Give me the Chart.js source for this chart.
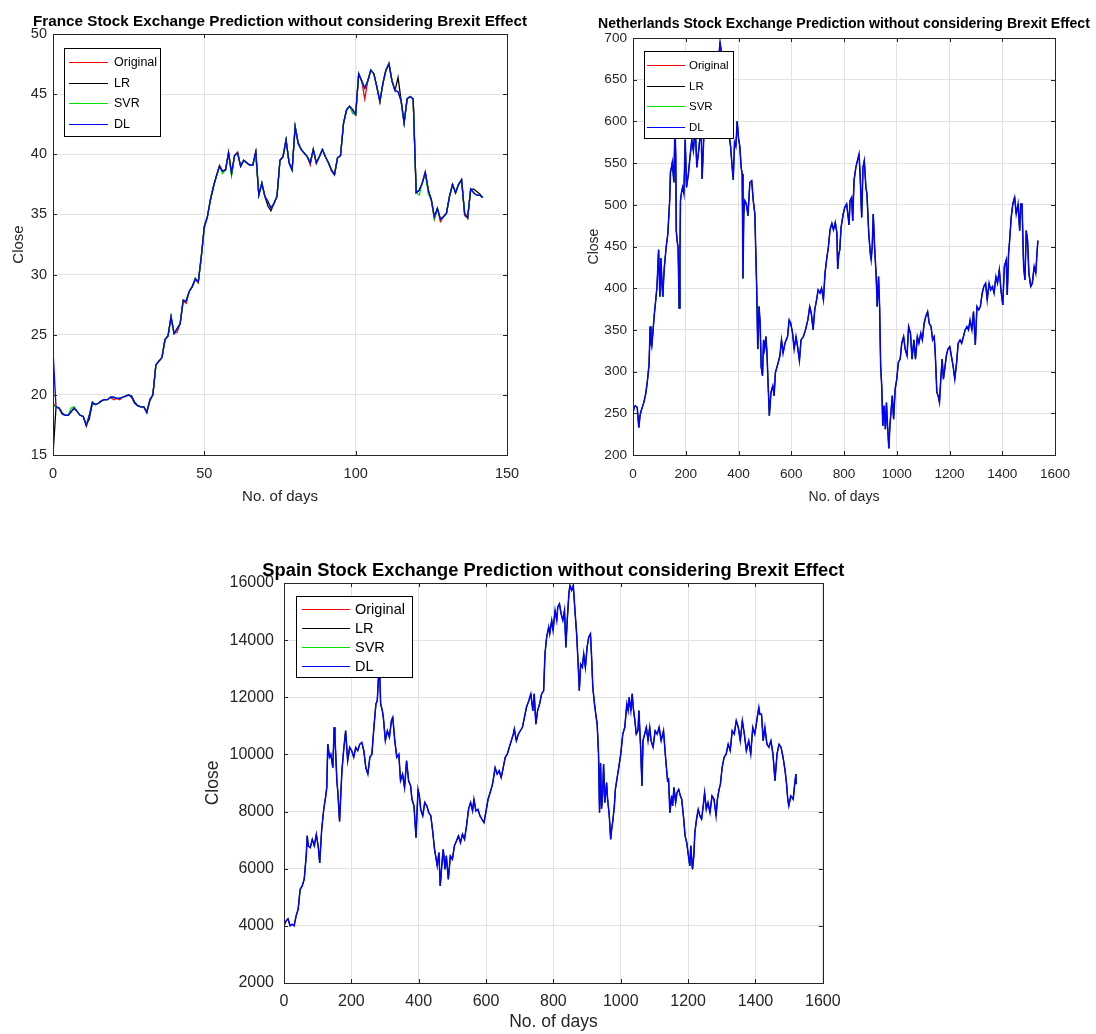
<!DOCTYPE html>
<html>
<head>
<meta charset="utf-8">
<script src="https://cdn.jsdelivr.net/npm/chart.js@4.4.1/dist/chart.umd.min.js"></script>
<style>
  html, body { margin: 0; padding: 0; background: #fff; }
  body { width: 1096px; height: 1034px; position: relative; overflow: hidden; }
  canvas { position: absolute; }
</style>
</head>
<body>
<canvas id="france" width="545" height="520" style="left:0;top:0"></canvas>
<canvas id="netherlands" width="536" height="520" style="left:560px;top:0"></canvas>
<canvas id="spain" width="660" height="484" style="left:190px;top:550px"></canvas>
<script>
// series shown in every panel
const seriesNames = ['Original', 'LR', 'SVR', 'DL']
const seriesColors = ['#ff0000', '#000000', '#00e000', '#0000ff']

// France: one value per day (day = index)
const franceOriginal = [19.3, 19.0, 18.9, 18.5, 18.3, 18.3, 18.6, 18.9, 18.6, 18.3,
  18.2, 17.5, 18.3, 19.3, 19.2, 19.3, 19.5, 19.6, 19.6, 19.8,
  19.6, 19.7, 19.6, 19.8, 19.9, 20.0, 19.8, 19.3, 19.1, 19.0,
  19.0, 18.6, 19.6, 20.0, 22.5, 22.8, 23.1, 24.6, 24.9, 26.4,
  25.1, 25.2, 25.9, 27.8, 27.6, 28.6, 29.0, 29.6, 29.3, 31.5,
  34.0, 34.8, 36.2, 37.3, 38.2, 39.1, 38.6, 38.7, 40.2, 38.4,
  39.9, 40.2, 39.0, 39.5, 39.3, 39.1, 39.1, 40.2, 36.6, 37.6,
  36.5, 36.0, 35.6, 35.9, 36.5, 39.5, 39.8, 41.2, 39.3, 38.7,
  42.3, 40.9, 40.4, 40.1, 39.8, 39.1, 40.4, 39.2, 39.8, 40.4,
  39.8, 39.3, 38.6, 38.3, 39.7, 39.9, 42.6, 43.7, 44.0, 43.7,
  43.3, 46.7, 46.1, 44.6, 46.1, 47.0, 46.7, 45.6, 44.3, 45.9,
  47.0, 47.6, 46.1, 45.3, 45.2, 44.4, 42.6, 44.6, 44.8, 44.6,
  36.8, 37.0, 37.6, 38.5, 37.0, 36.2, 34.6, 35.5, 34.4, 34.8,
  35.1, 36.5, 37.5, 36.8, 37.5, 37.9, 34.9, 34.7, 37.1, 36.8,
  36.6, 36.6, 36.4]
const franceLR = [15.0, 19.0, 18.9, 18.4, 18.3, 18.3, 18.6, 18.9, 18.6, 18.3,
  18.2, 17.5, 18.0, 19.3, 19.2, 19.3, 19.5, 19.6, 19.6, 19.8,
  19.8, 19.7, 19.7, 19.8, 19.9, 20.0, 19.9, 19.4, 19.1, 19.0,
  19.0, 18.6, 19.5, 20.0, 22.5, 22.8, 23.1, 24.6, 24.9, 26.5,
  25.1, 25.5, 25.9, 27.9, 27.8, 28.6, 29.0, 29.7, 29.4, 31.5,
  34.0, 34.8, 36.2, 37.3, 38.2, 39.0, 38.6, 38.7, 40.1, 38.4,
  39.9, 40.1, 39.0, 39.5, 39.3, 39.1, 39.1, 40.2, 36.6, 37.6,
  36.5, 35.7, 35.3, 35.9, 36.5, 39.5, 39.8, 41.2, 39.3, 38.7,
  42.3, 41.0, 40.4, 40.1, 39.8, 39.3, 40.4, 39.3, 39.8, 40.4,
  39.8, 39.3, 38.7, 38.3, 39.7, 39.9, 42.6, 43.7, 44.0, 43.7,
  43.3, 46.7, 46.1, 45.5, 46.1, 47.0, 46.7, 45.6, 44.4, 45.9,
  47.0, 47.5, 46.1, 45.3, 46.4, 44.5, 42.6, 44.6, 44.8, 44.6,
  36.8, 37.0, 37.6, 38.5, 37.0, 36.2, 34.8, 35.5, 34.6, 34.8,
  35.1, 36.5, 37.5, 36.8, 37.5, 37.8, 35.1, 34.7, 37.1, 37.1,
  36.9, 36.7, 36.4]
const franceSVR = [19.1, 19.0, 18.9, 18.5, 18.3, 18.3, 18.9, 19.0, 18.6, 18.3,
  18.2, 17.5, 18.3, 19.4, 19.2, 19.3, 19.5, 19.6, 19.6, 19.8,
  19.8, 19.7, 19.7, 19.8, 19.9, 20.0, 19.8, 19.3, 19.1, 19.0,
  19.0, 18.5, 19.6, 20.0, 22.5, 22.8, 23.1, 24.6, 24.9, 26.5,
  25.1, 25.5, 25.9, 27.8, 27.8, 28.6, 29.0, 29.6, 29.4, 31.5,
  33.8, 34.8, 36.2, 37.3, 38.2, 39.0, 38.4, 38.7, 40.1, 38.2,
  39.9, 40.1, 39.0, 39.5, 39.3, 39.1, 39.1, 39.9, 36.6, 37.6,
  36.5, 36.1, 35.5, 35.9, 36.5, 39.5, 39.8, 41.2, 39.3, 38.7,
  42.3, 40.9, 40.4, 40.1, 39.8, 39.3, 40.4, 39.3, 39.8, 40.4,
  39.8, 39.3, 38.7, 38.3, 39.7, 39.9, 42.6, 43.7, 44.0, 43.4,
  43.3, 46.7, 46.1, 45.5, 46.1, 47.0, 46.7, 45.6, 44.4, 45.9,
  47.0, 47.5, 46.1, 45.3, 45.2, 44.5, 42.6, 44.6, 44.8, 44.6,
  36.8, 36.6, 37.6, 38.5, 36.7, 36.2, 34.6, 35.5, 34.6, 34.8,
  35.1, 36.5, 37.5, 36.8, 37.5, 37.9, 35.1, 34.7, 37.1, 36.8,
  36.6, 36.6, 36.4]
const franceDL = [23.7, 19.0, 18.9, 18.5, 18.3, 18.3, 18.6, 18.9, 18.6, 18.3,
  18.2, 17.4, 18.3, 19.4, 19.2, 19.3, 19.5, 19.6, 19.6, 19.8,
  19.8, 19.7, 19.7, 19.8, 19.9, 20.0, 19.8, 19.3, 19.1, 19.0,
  19.0, 18.5, 19.6, 20.0, 22.5, 22.8, 23.1, 24.6, 24.9, 26.5,
  25.1, 25.5, 25.9, 27.8, 27.8, 28.6, 29.0, 29.6, 29.4, 31.5,
  34.0, 34.8, 36.2, 37.3, 38.2, 39.0, 38.6, 38.7, 40.1, 38.4,
  39.9, 40.1, 39.0, 39.5, 39.3, 39.1, 39.1, 40.2, 36.6, 37.6,
  36.5, 36.1, 35.5, 35.9, 36.5, 39.5, 39.8, 41.2, 39.3, 38.7,
  42.3, 40.9, 40.4, 40.1, 39.8, 39.3, 40.4, 39.3, 39.8, 40.4,
  39.8, 39.3, 38.7, 38.3, 39.7, 39.9, 42.6, 43.7, 44.0, 43.7,
  43.3, 46.7, 46.1, 45.5, 46.1, 47.0, 46.7, 45.6, 44.4, 45.9,
  47.0, 47.5, 46.1, 45.3, 45.2, 44.5, 42.6, 44.6, 44.8, 44.6,
  36.8, 37.0, 37.6, 38.5, 37.0, 36.2, 34.8, 35.5, 34.6, 34.8,
  35.1, 36.5, 37.5, 36.8, 37.5, 37.9, 35.1, 34.7, 37.1, 36.8,
  36.6, 36.6, 36.4]
const franceDays = franceDL.map((_, i) => i)

// Netherlands: sampled days and close (the four series overlap at this scale)
const nlDays = [0, 5, 9, 16, 22, 27, 31, 36, 41, 48, 54, 61, 65, 68, 71, 75, 80, 86, 91, 97,
  102, 106, 110, 113, 116, 119, 126, 132, 139, 142, 146, 149, 155, 159, 162, 164, 168, 171, 175, 178,
  180, 184, 188, 193, 198, 203, 210, 216, 223, 229, 236, 242, 249, 255, 258, 262, 268, 275, 281, 288,
  295, 302, 310, 318, 325, 330, 334, 340, 347, 355, 362, 370, 376, 380, 385, 390, 395, 400, 405, 410,
  414, 417, 420, 424, 430, 436, 443, 450, 456, 462, 465, 469, 473, 478, 482, 486, 491, 495, 499, 504,
  508, 512, 517, 523, 530, 535, 540, 549, 557, 563, 569, 576, 586, 592, 598, 605, 611, 618, 624, 631,
  637, 646, 654, 663, 670, 676, 683, 689, 696, 702, 709, 715, 722, 728, 734, 741, 747, 754, 760, 767,
  773, 776, 780, 784, 789, 797, 803, 810, 816, 819, 823, 829, 833, 838, 845, 851, 857, 861, 867, 872,
  877, 883, 887, 894, 900, 903, 907, 911, 916, 922, 926, 931, 935, 939, 943, 947, 952, 957, 961, 965,
  970, 974, 978, 983, 988, 994, 1000, 1006, 1013, 1019, 1026, 1032, 1039, 1045, 1052, 1058, 1065, 1071, 1078, 1084,
  1091, 1097, 1104, 1110, 1117, 1123, 1130, 1136, 1142, 1146, 1152, 1157, 1162, 1167, 1172, 1177, 1183, 1188, 1194, 1201,
  1207, 1214, 1220, 1227, 1233, 1240, 1246, 1253, 1259, 1266, 1272, 1278, 1285, 1291, 1298, 1304, 1311, 1317, 1324, 1330,
  1337, 1343, 1350, 1356, 1363, 1369, 1376, 1382, 1389, 1395, 1402, 1408, 1415, 1419, 1424, 1427, 1434, 1440, 1447, 1453,
  1460, 1466, 1470, 1475, 1481, 1486, 1491, 1496, 1501, 1508, 1514, 1521, 1527, 1531, 1535]
const nlClose = [250, 258, 259, 257, 233, 248, 253, 258, 263, 273, 287, 309, 354, 335, 330, 345, 366, 385, 402, 446,
  390, 436, 405, 390, 410, 426, 450, 465, 505, 539, 545, 551, 527, 594, 560, 469, 455, 449, 376, 440,
  505, 515, 521, 513, 578, 521, 537, 557, 578, 565, 594, 545, 565, 585, 600, 531, 578, 600, 590, 615,
  600, 620, 640, 655, 675, 695, 685, 650, 620, 600, 590, 570, 545, 530, 575, 570, 600, 580, 570, 545,
  537, 412, 489, 505, 501, 487, 527, 529, 505, 489, 450, 400, 327, 378, 358, 306, 295, 338, 327, 342,
  322, 287, 247, 275, 283, 271, 299, 309, 319, 338, 322, 334, 342, 362, 358, 346, 327, 342, 330, 313,
  338, 342, 350, 362, 378, 370, 350, 374, 386, 398, 394, 400, 386, 418, 434, 450, 470, 478, 470, 479,
  466, 423, 440, 446, 473, 489, 497, 501, 485, 476, 505, 509, 481, 529, 545, 553, 561, 537, 485, 545,
  553, 521, 513, 465, 441, 434, 450, 489, 450, 414, 378, 414, 378, 306, 283, 235, 259, 231, 263, 235,
  208, 235, 251, 271, 243, 279, 291, 311, 315, 334, 342, 327, 319, 354, 346, 315, 338, 315, 342, 334,
  346, 338, 358, 366, 372, 358, 354, 338, 342, 322, 275, 271, 263, 291, 315, 291, 306, 319, 327, 330,
  319, 306, 291, 311, 334, 338, 334, 342, 350, 354, 350, 362, 350, 372, 332, 378, 374, 378, 394, 402,
  406, 386, 406, 398, 402, 394, 414, 406, 422, 398, 380, 426, 434, 392, 442, 453, 485, 501, 509, 489,
  501, 469, 501, 501, 426, 410, 469, 457, 418, 402, 406, 426, 418, 438, 457]

// Spain: sampled days and close
const spainDays = [0, 6, 12, 18, 24, 30, 36, 42, 48, 54, 60, 66, 69, 72, 78, 84, 90, 96, 102, 106,
  112, 118, 124, 127, 130, 135, 139, 145, 149, 151, 157, 160, 165, 172, 177, 183, 189, 195, 201, 207,
  213, 219, 225, 231, 237, 243, 249, 255, 261, 267, 273, 277, 281, 284, 287, 292, 295, 301, 307, 313,
  319, 323, 329, 335, 341, 346, 352, 358, 364, 370, 376, 380, 386, 392, 395, 398, 402, 406, 412, 418,
  424, 430, 436, 442, 447, 452, 455, 460, 464, 470, 473, 478, 482, 488, 494, 500, 506, 512, 518, 524,
  530, 536, 542, 548, 554, 560, 564, 570, 576, 582, 588, 594, 600, 606, 612, 618, 621, 627, 633, 639,
  645, 651, 657, 663, 669, 675, 681, 684, 690, 696, 702, 708, 714, 720, 727, 733, 739, 743, 748, 753,
  759, 765, 771, 775, 780, 786, 789, 795, 799, 805, 810, 813, 818, 823, 828, 833, 837, 841, 846, 849,
  854, 859, 864, 869, 873, 877, 881, 886, 890, 895, 900, 905, 910, 913, 917, 922, 927, 930, 934, 937,
  940, 943, 946, 949, 953, 958, 961, 966, 970, 973, 977, 981, 984, 988, 994, 1000, 1006, 1012, 1018, 1022,
  1025, 1030, 1034, 1037, 1042, 1046, 1051, 1054, 1059, 1063, 1066, 1071, 1076, 1081, 1086, 1090, 1096, 1102, 1108, 1114,
  1120, 1127, 1133, 1139, 1142, 1146, 1151, 1154, 1158, 1163, 1167, 1172, 1177, 1181, 1187, 1191, 1196, 1201, 1205, 1208,
  1213, 1217, 1220, 1225, 1230, 1235, 1240, 1245, 1249, 1254, 1259, 1265, 1271, 1277, 1283, 1287, 1292, 1296, 1301, 1307,
  1313, 1319, 1325, 1331, 1337, 1343, 1349, 1355, 1361, 1367, 1373, 1380, 1386, 1392, 1398, 1404, 1410, 1413, 1418, 1423,
  1428, 1434, 1440, 1446, 1452, 1458, 1464, 1470, 1476, 1482, 1488, 1492, 1496, 1499, 1505, 1512, 1516, 1520, 1521]
const spainClose = [4000, 4170, 4250, 4000, 4060, 4000, 4350, 4580, 5280, 5400, 5630, 6450, 7150, 6800, 6740, 7030, 6800, 7200, 6740, 6200,
  7380, 8080, 8550, 8840, 10360, 9900, 10010, 9540, 10950, 10710, 9080, 8660, 7650, 9430, 10130, 10830, 9780, 10250, 10130, 9900,
  10250, 10130, 10360, 10420, 10130, 9540, 9310, 9900, 10010, 10950, 11770, 11880, 12820, 12900, 11770, 11530, 11300, 10480, 10830, 10600,
  11180, 11300, 10480, 9900, 10010, 9080, 9310, 8840, 9780, 9080, 8900, 8430, 8200, 7090, 7960, 8780, 8550, 8080, 7850, 8320,
  8200, 7960, 7850, 7260, 6680, 6330, 6100, 6560, 5400, 6330, 6680, 5980, 6450, 5630, 6450, 6330, 6800, 6970, 7150, 6910,
  7210, 7030, 7500, 8080, 8320, 8020, 8430, 8020, 8080, 7850, 7730, 7610, 8020, 8430, 8660, 8900, 9080, 9540, 9310, 9430,
  9190, 9540, 9900, 10010, 10250, 10480, 10710, 10890, 10480, 10710, 10830, 10950, 11300, 11650, 11880, 12120, 11530, 12120, 11060, 11530,
  11770, 12120, 12230, 13520, 14110, 14460, 14220, 14690, 14340, 15040, 14690, 15160, 15270, 14920, 14690, 15040, 13750, 14690, 15630, 15920,
  15740, 15920, 15040, 14220, 13280, 12230, 13160, 13050, 13520, 13050, 13750, 14110, 14220, 13520, 12350, 11770, 11300, 11060, 10010, 7960,
  9700, 8100, 8550, 9660, 8320, 9010, 8430, 7850, 7030, 7380, 7730, 8200, 8780, 9080, 9540, 10010, 10710, 10950, 11770, 11530,
  12000, 11530, 12120, 11650, 11180, 10710, 10830, 11530, 10250, 8900, 10480, 10710, 10950, 10480, 10950, 10480, 10250, 10830, 10710, 10950,
  10480, 10830, 9900, 9080, 9130, 7960, 8550, 8200, 8840, 8320, 8660, 8780, 8550, 8430, 7730, 7150, 6910, 6450, 6100, 6800,
  5980, 6450, 7260, 7730, 8080, 7850, 7730, 8200, 8660, 8080, 8320, 7960, 8550, 8430, 7850, 8430, 8780, 8960, 9540, 9900,
  10010, 10360, 10130, 10830, 10710, 11180, 10950, 10480, 11180, 10710, 10130, 10480, 10010, 10950, 10710, 11180, 11650, 11410, 11410, 10480,
  10950, 10360, 10250, 10480, 10010, 9080, 10010, 10360, 10250, 9900, 9430, 9010, 8430, 8200, 8550, 8430, 8900, 9310, 8960]

const FONT = "'Liberation Sans', Arial, Helvetica, sans-serif"
const INK = '#262626'
const GRID = '#e1e1e1'

// bold title centred over the plot, allowed to run wider than it
const panelTitle = {
  id: 'panelTitle',
  afterDraw(chart, args, o) {
    const {ctx, chartArea: a} = chart
    ctx.save()
    ctx.font = 'bold ' + o.size + 'px ' + FONT
    ctx.fillStyle = '#000'
    ctx.textAlign = 'center'
    ctx.textBaseline = 'middle'
    ctx.fillText(o.text, (a.left + a.right) / 2, o.y)
    ctx.restore()
  }
}

// box round the plot with small inward ticks on all four sides
const axesBox = {
  id: 'axesBox',
  afterDatasetsDraw(chart) {
    const {ctx, chartArea: a, scales: {x, y}} = chart
    const len = 4
    ctx.save()
    ctx.strokeStyle = INK
    ctx.lineWidth = 1
    ctx.beginPath()
    x.ticks.forEach(t => {
      const px = Math.round(x.getPixelForValue(t.value)) + 0.5
      ctx.moveTo(px, a.bottom); ctx.lineTo(px, a.bottom - len)
      ctx.moveTo(px, a.top); ctx.lineTo(px, a.top + len)
    })
    y.ticks.forEach(t => {
      const py = Math.round(y.getPixelForValue(t.value)) + 0.5
      ctx.moveTo(a.left, py); ctx.lineTo(a.left + len, py)
      ctx.moveTo(a.right, py); ctx.lineTo(a.right - len, py)
    })
    ctx.stroke()
    ctx.strokeRect(Math.round(a.left) + 0.5, Math.round(a.top) + 0.5,
                   Math.round(a.right - a.left), Math.round(a.bottom - a.top))
    ctx.restore()
  }
}

// legend box placed inside the plot, top left
const boxLegend = {
  id: 'boxLegend',
  afterDraw(chart, args, o) {
    const {ctx, chartArea: a} = chart
    const left = Math.round(a.left + o.dx), top = Math.round(a.top + o.dy)
    ctx.save()
    ctx.fillStyle = '#fff'
    ctx.fillRect(left, top, o.w, o.h)
    ctx.strokeStyle = '#000'
    ctx.lineWidth = 1
    ctx.strokeRect(left + 0.5, top + 0.5, o.w, o.h)
    ctx.font = o.size + 'px ' + FONT
    ctx.textBaseline = 'middle'
    chart.data.datasets.forEach((ds, i) => {
      const yy = Math.round(top + o.row0 + i * o.gap) + 0.5
      ctx.strokeStyle = ds.borderColor
      ctx.beginPath()
      ctx.moveTo(left + o.line0, yy)
      ctx.lineTo(left + o.line1, yy)
      ctx.stroke()
      ctx.fillStyle = '#000'
      ctx.fillText(ds.label, left + o.text, yy)
    })
    ctx.restore()
  }
}

function makePanel(p) {
  const datasets = seriesNames.map((name, i) => ({
    label: name,
    data: p.days.map((d, k) => ({x: d, y: p.series[i][k]})),
    borderColor: seriesColors[i],
    borderWidth: p.lineWidths[i],
    pointRadius: 0,
    tension: 0,
    order: seriesNames.length - i   // DL drawn last, on top
  }))
  const tick = {family: FONT, size: p.tickSize}
  const label = {family: FONT, size: p.labelSize}
  return new Chart(document.getElementById(p.id), {
    type: 'line',
    data: {datasets},
    plugins: [axesBox, boxLegend, panelTitle],
    options: {
      responsive: false,
      animation: false,
      devicePixelRatio: 1,
      layout: {padding: {left: 0, right: p.padRight, top: p.padTop, bottom: 0}},
      plugins: {
        legend: {display: false},
        tooltip: {enabled: false},
        title: {display: false},
        panelTitle: p.title,
        boxLegend: p.legend
      },
      scales: {
        x: {
          type: 'linear', min: p.xMin, max: p.xMax,
          afterFit: s => { s.height = p.xAxisHeight },
          ticks: {stepSize: p.xStep, font: tick, color: INK, padding: p.xTickPad,
                  maxRotation: 0, autoSkip: false, callback: v => String(v)},
          grid: {color: GRID, drawTicks: false},
          border: {display: false},
          title: {display: true, text: 'No. of days', font: label, color: INK,
                  padding: {top: 0, bottom: p.xTitlePad}}
        },
        y: {
          type: 'linear', min: p.yMin, max: p.yMax,
          afterFit: s => { s.width = p.yAxisWidth },
          ticks: {stepSize: p.yStep, font: tick, color: INK, padding: p.yTickPad,
                  callback: v => String(v)},
          grid: {color: GRID, drawTicks: false},
          border: {display: false},
          title: {display: true, text: 'Close', font: label, color: INK,
                  padding: {top: p.yTitlePad, bottom: 0}}
        }
      }
    }
  })
}

makePanel({
  id: 'france',
  title: {text: 'France Stock Exchange Prediction without considering Brexit Effect', size: 15.25, y: 21.5},
  days: franceDays,
  series: [franceOriginal, franceLR, franceSVR, franceDL],
  lineWidths: [1.3, 1.3, 1.3, 1.3],
  xMin: 0, xMax: 150, xStep: 50, yMin: 15, yMax: 50, yStep: 5,
  tickSize: 14.5, labelSize: 15,
  padTop: 34, padRight: 38, yAxisWidth: 53, xAxisHeight: 65,
  xTickPad: 10, yTickPad: 6, xTitlePad: 14, yTitlePad: 10,
  legend: {dx: 11, dy: 14, w: 96, h: 88, line0: 5, line1: 44, text: 50, row0: 14, gap: 20.6, size: 12.5}
})

makePanel({
  id: 'netherlands',
  title: {text: 'Netherlands Stock Exchange Prediction without considering Brexit Effect', size: 14.1, y: 24},
  days: nlDays,
  series: [nlClose, nlClose, nlClose, nlClose],
  lineWidths: [0.8, 0.8, 0.8, 1.5],
  xMin: 0, xMax: 1600, xStep: 200, yMin: 200, yMax: 700, yStep: 50,
  tickSize: 13.6, labelSize: 14,
  padTop: 38, padRight: 41, yAxisWidth: 73, xAxisHeight: 65,
  xTickPad: 10.8, yTickPad: 6, xTitlePad: 14.6, yTitlePad: 25.6,
  legend: {dx: 11, dy: 13, w: 89, h: 87, line0: 3, line1: 41, text: 45, row0: 14, gap: 20.7, size: 11.5}
})

makePanel({
  id: 'spain',
  title: {text: 'Spain Stock Exchange Prediction without considering Brexit Effect', size: 18.3, y: 21},
  days: spainDays,
  series: [spainClose, spainClose, spainClose, spainClose],
  lineWidths: [0.8, 0.8, 0.8, 1.5],
  xMin: 0, xMax: 1600, xStep: 200, yMin: 2000, yMax: 16000, yStep: 2000,
  tickSize: 16, labelSize: 17.5,
  padTop: 33, padRight: 25, yAxisWidth: 94, xAxisHeight: 51,
  xTickPad: 9.4, yTickPad: 10, xTitlePad: 1.5, yTitlePad: 12.5,
  legend: {dx: 12, dy: 13, w: 116, h: 81, line0: 6, line1: 54, text: 59, row0: 13, gap: 19, size: 14.5}
})
</script>
</body>
</html>
